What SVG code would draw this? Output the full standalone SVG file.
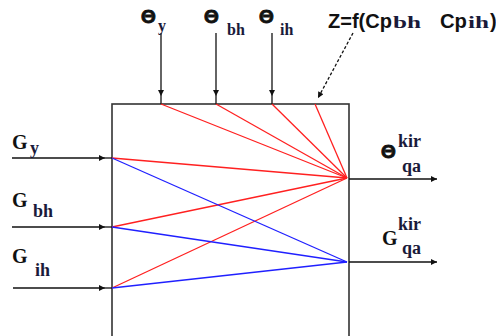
<svg xmlns="http://www.w3.org/2000/svg" width="496" height="336" viewBox="0 0 496 336">
<defs>
<style>
.box{fill:none;stroke:#333;stroke-width:1.6}
.arr{stroke:#111;stroke-width:1.3;fill:none}
.red{stroke:#ff2020;stroke-width:1.3;fill:none}
.blue{stroke:#2020ff;stroke-width:1.3;fill:none}
.th{font-family:"Liberation Sans",Arial,sans-serif;font-weight:bold;font-size:19px;fill:#111;stroke:#111;stroke-width:0.9}
.g{font-family:"Liberation Serif","Times New Roman",serif;font-weight:bold;font-size:20px;fill:#111}
.sub{font-family:"Liberation Serif","Times New Roman",serif;font-weight:bold;font-size:16px;fill:#1a1a3a}
.osub{font-family:"Liberation Serif","Times New Roman",serif;font-weight:bold;font-size:18px;fill:#1a1a3a}
.z{font-family:"Liberation Sans",Arial,sans-serif;font-weight:bold;font-size:20px;fill:#111}
</style>
<marker id="ah" viewBox="0 0 10 10" refX="10" refY="5" markerWidth="7" markerHeight="6" markerUnits="userSpaceOnUse" orient="auto">
<path d="M0,0 L10,5 L0,10 z" fill="#111"/>
</marker>
</defs>
<rect width="496" height="336" fill="#fff"/>
<g id="block"><rect class="box" x="112" y="104" width="237" height="240"/></g>
<g id="connectors">
<line class="arr" x1="161" y1="33" x2="161" y2="96" marker-end="url(#ah)"/>
<line class="arr" x1="216" y1="33" x2="216" y2="96" marker-end="url(#ah)"/>
<line class="arr" x1="272" y1="33" x2="272" y2="96" marker-end="url(#ah)"/>
<line class="arr" x1="161" y1="96" x2="161" y2="104"/>
<line class="arr" x1="216" y1="96" x2="216" y2="104"/>
<line class="arr" x1="272" y1="96" x2="272" y2="104"/>
<line class="arr" x1="353" y1="33" x2="318" y2="98" stroke-dasharray="3,2" marker-end="url(#ah)"/>
<line class="arr" x1="12" y1="158" x2="105" y2="158" marker-end="url(#ah)"/>
<line class="arr" x1="12" y1="227" x2="105" y2="227" marker-end="url(#ah)"/>
<line class="arr" x1="13" y1="288" x2="105" y2="288" marker-end="url(#ah)"/>
<line class="arr" x1="105" y1="158" x2="112" y2="158"/>
<line class="arr" x1="105" y1="227" x2="112" y2="227"/>
<line class="arr" x1="105" y1="288" x2="112" y2="288"/>
<line class="arr" x1="349" y1="179" x2="437" y2="179" marker-end="url(#ah)"/>
<line class="arr" x1="349" y1="262" x2="437" y2="262" marker-end="url(#ah)"/>
<line class="red" x1="161" y1="104" x2="347" y2="178"/>
<line class="red" x1="216" y1="104" x2="347" y2="178"/>
<line class="red" x1="272" y1="104" x2="347" y2="178"/>
<line class="red" x1="315" y1="104" x2="347" y2="178"/>
<line class="red" x1="112" y1="158" x2="347" y2="178"/>
<line class="red" x1="112" y1="227" x2="347" y2="178"/>
<line class="red" x1="112" y1="288" x2="347" y2="178"/>
<line class="blue" x1="112" y1="158" x2="347" y2="262"/>
<line class="blue" x1="112" y1="227" x2="347" y2="262"/>
<line class="blue" x1="112" y1="288" x2="347" y2="262"/>
</g>
<g id="labels">
<text class="th" x="141" y="23">Θ</text><text class="sub" x="158" y="31">y</text>
<text class="th" x="204" y="23">Θ</text><text class="sub" x="227" y="35">bh</text>
<text class="th" x="259" y="23">Θ</text><text class="sub" x="280" y="35">ih</text>
<text class="z" y="28"><tspan x="328" textLength="64" lengthAdjust="spacingAndGlyphs">Z=f(Cp</tspan><tspan class="sub" x="393" textLength="28" lengthAdjust="spacingAndGlyphs">bh</tspan><tspan x="440" textLength="27" lengthAdjust="spacingAndGlyphs">Cp</tspan><tspan class="sub" x="468" textLength="21" lengthAdjust="spacingAndGlyphs">ih</tspan><tspan x="490">)</tspan></text>
<text class="g" x="12" y="149">G</text><text class="osub" x="30" y="154">y</text>
<text class="g" x="12" y="207">G</text><text class="osub" x="33" y="217">bh</text>
<text class="g" x="12" y="263">G</text><text class="osub" x="35" y="276">ih</text>
<text class="th" x="381" y="158">Θ</text><text class="osub" x="398" y="147">kir</text><text class="osub" x="402" y="172">qa</text>
<text class="g" x="382" y="245">G</text><text class="osub" x="398" y="230">kir</text><text class="osub" x="402" y="254">qa</text>
</g>
</svg>
